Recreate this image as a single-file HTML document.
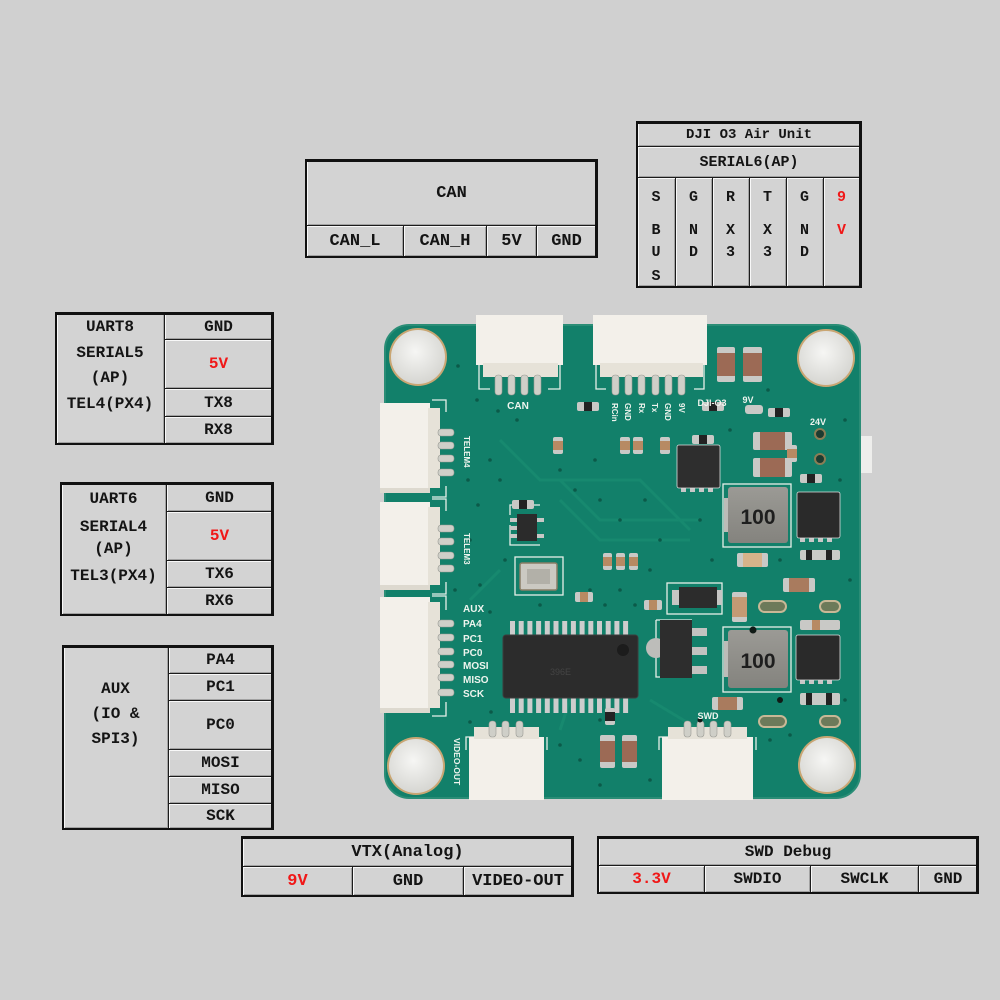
<!DOCTYPE html>
<html><head><meta charset="utf-8"><style>
html,body{margin:0;padding:0;}
body{width:1000px;height:1000px;background:#d0d0d0;position:relative;overflow:hidden;font-family:"Liberation Mono",monospace;}
.c{position:absolute;box-sizing:border-box;border:1px solid #1c1c1c;background:#d3d3d3;box-shadow:inset 1px 1px 0 #f8f8f8,inset -1px -1px 0 #a2a2a2;display:flex;align-items:center;justify-content:center;font-weight:bold;font-size:16px;color:#141414;white-space:nowrap;}
.f{position:absolute;box-sizing:border-box;border:2px solid #111;border-top-width:3px;border-right-width:3px;}
.t{position:absolute;text-align:center;font-weight:bold;font-size:16px;line-height:18px;color:#141414;white-space:nowrap;}
.r{color:#f01818;}
svg{position:absolute;left:0;top:0;}
</style></head><body>

<svg width="1000" height="1000" viewBox="0 0 1000 1000">
<defs>
<radialGradient id="hole" cx="45%" cy="40%" r="60%"><stop offset="0" stop-color="#f6f6f4"/><stop offset="1" stop-color="#d6d6d2"/></radialGradient>
<linearGradient id="ind" x1="0" y1="0" x2="0" y2="1"><stop offset="0" stop-color="#9b9a95"/><stop offset="1" stop-color="#84837e"/></linearGradient>
</defs>
<!-- right tab -->
<rect x="855" y="436" width="17" height="37" fill="#eeeeec"/>
<!-- board -->
<rect x="385" y="325" width="475" height="473" rx="24" fill="#12806a" stroke="#2a8d76" stroke-width="2"/>
<!-- faint traces -->
<g stroke="#17896f" stroke-width="3" fill="none">
<path d="M560 480 L600 520 L700 520"/><path d="M560 500 L600 540 L690 540"/><path d="M500 440 L540 480 L640 480 L690 530"/>
<path d="M470 600 L500 570"/><path d="M650 700 L700 730"/><path d="M570 700 L560 730"/>
</g>
<!-- mounting holes -->
<g>
<circle cx="418" cy="357" r="29" fill="#c9a673"/><circle cx="418" cy="357" r="27" fill="url(#hole)"/>
<circle cx="826" cy="358" r="29" fill="#c9a673"/><circle cx="826" cy="358" r="27" fill="url(#hole)"/>
<circle cx="416" cy="766" r="29" fill="#c9a673"/><circle cx="416" cy="766" r="27" fill="url(#hole)"/>
<circle cx="827" cy="765" r="29" fill="#c9a673"/><circle cx="827" cy="765" r="27" fill="url(#hole)"/>
</g>
<!-- silkscreen outlines -->
<g stroke="#e6efe9" stroke-width="1.3" fill="none">
<path d="M479 362 V389 H490"/><path d="M560 362 V389 H548"/>
<path d="M596 362 V389 H606"/><path d="M704 362 V389 H694"/>
<path d="M432 400 H446 V412"/><path d="M432 497 H446 V486"/>
<path d="M432 499 H446 V511"/><path d="M432 594 H446 V582"/>
<path d="M432 596 H446 V610"/><path d="M432 716 H446 V702"/>
<path d="M466 750 V737 H478"/><path d="M547 750 V737"/>
<path d="M659 750 V737 H670"/><path d="M756 750 V737"/>
<rect x="515" y="557" width="48" height="38"/>
<rect x="667" y="583" width="55" height="31"/>
<path d="M656 620 V677 H690"/><path d="M656 620 H692"/>
<rect x="723" y="484" width="68" height="63"/>
<rect x="723" y="627" width="68" height="65"/>
<path d="M510 525 V545 H540"/><path d="M510 515 V505 H540"/>
</g>
<!-- CAN connector -->
<rect x="476" y="315" width="87" height="50" fill="#f3f0ea"/>
<rect x="483" y="363" width="75" height="14" fill="#e6e2d8"/>
<g fill="#cfcfc8" stroke="#9a9a94" stroke-width="0.6">
<rect x="495" y="375" width="7" height="20" rx="3"/><rect x="508" y="375" width="7" height="20" rx="3"/><rect x="521" y="375" width="7" height="20" rx="3"/><rect x="534" y="375" width="7" height="20" rx="3"/>
</g>
<!-- DJI connector -->
<rect x="593" y="315" width="114" height="50" fill="#f3f0ea"/>
<rect x="600" y="363" width="103" height="14" fill="#e6e2d8"/>
<g fill="#cfcfc8" stroke="#9a9a94" stroke-width="0.6">
<rect x="612" y="375" width="7" height="20" rx="3"/><rect x="625" y="375" width="7" height="20" rx="3"/><rect x="638" y="375" width="7" height="20" rx="3"/><rect x="652" y="375" width="7" height="20" rx="3"/><rect x="665" y="375" width="7" height="20" rx="3"/><rect x="678" y="375" width="7" height="20" rx="3"/>
</g>
<!-- TELEM4 -->
<rect x="380" y="403" width="50" height="90" fill="#f3f0ea"/>
<rect x="428" y="408" width="12" height="80" fill="#e6e2d8"/>
<rect x="380" y="488" width="50" height="5" fill="#ddd9cf"/>
<g fill="#cfcfc8" stroke="#9a9a94" stroke-width="0.6">
<rect x="438" y="429" width="16" height="7" rx="3"/><rect x="438" y="442" width="16" height="7" rx="3"/><rect x="438" y="455" width="16" height="7" rx="3"/><rect x="438" y="469" width="16" height="7" rx="3"/>
</g>
<!-- TELEM3 -->
<rect x="380" y="502" width="50" height="88" fill="#f3f0ea"/>
<rect x="428" y="507" width="12" height="78" fill="#e6e2d8"/>
<rect x="380" y="585" width="50" height="5" fill="#ddd9cf"/>
<g fill="#cfcfc8" stroke="#9a9a94" stroke-width="0.6">
<rect x="438" y="525" width="16" height="7" rx="3"/><rect x="438" y="538" width="16" height="7" rx="3"/><rect x="438" y="552" width="16" height="7" rx="3"/><rect x="438" y="565" width="16" height="7" rx="3"/>
</g>
<!-- AUX -->
<rect x="380" y="597" width="50" height="116" fill="#f3f0ea"/>
<rect x="428" y="602" width="12" height="106" fill="#e6e2d8"/>
<rect x="380" y="708" width="50" height="5" fill="#ddd9cf"/>
<g fill="#cfcfc8" stroke="#9a9a94" stroke-width="0.6">
<rect x="438" y="620" width="16" height="7" rx="3"/><rect x="438" y="634" width="16" height="7" rx="3"/><rect x="438" y="648" width="16" height="7" rx="3"/><rect x="438" y="661" width="16" height="7" rx="3"/><rect x="438" y="674" width="16" height="7" rx="3"/><rect x="438" y="689" width="16" height="7" rx="3"/>
</g>
<!-- VIDEO-OUT connector -->
<rect x="469" y="737" width="75" height="63" fill="#f3f0ea"/>
<rect x="474" y="727" width="65" height="12" fill="#e6e2d8"/>
<g fill="#cfcfc8" stroke="#9a9a94" stroke-width="0.6">
<rect x="489" y="721" width="7" height="16" rx="3"/><rect x="502" y="721" width="7" height="16" rx="3"/><rect x="516" y="721" width="7" height="16" rx="3"/>
</g>
<!-- SWD connector -->
<rect x="662" y="737" width="91" height="63" fill="#f3f0ea"/>
<rect x="668" y="727" width="79" height="12" fill="#e6e2d8"/>
<g fill="#cfcfc8" stroke="#9a9a94" stroke-width="0.6">
<rect x="684" y="721" width="7" height="16" rx="3"/><rect x="697" y="721" width="7" height="16" rx="3"/><rect x="710" y="721" width="7" height="16" rx="3"/><rect x="724" y="721" width="7" height="16" rx="3"/>
</g>
<!-- TSSOP chip -->
<g fill="#cdcdcd">
<rect x="510" y="621" width="5" height="15"/><rect x="518.7" y="621" width="5" height="15"/><rect x="527.4" y="621" width="5" height="15"/><rect x="536.1" y="621" width="5" height="15"/><rect x="544.8" y="621" width="5" height="15"/><rect x="553.5" y="621" width="5" height="15"/><rect x="562.2" y="621" width="5" height="15"/><rect x="570.9" y="621" width="5" height="15"/><rect x="579.6" y="621" width="5" height="15"/><rect x="588.3" y="621" width="5" height="15"/><rect x="597" y="621" width="5" height="15"/><rect x="605.7" y="621" width="5" height="15"/><rect x="614.4" y="621" width="5" height="15"/><rect x="623.1" y="621" width="5" height="15"/>
<rect x="510" y="697" width="5" height="16"/><rect x="518.7" y="697" width="5" height="16"/><rect x="527.4" y="697" width="5" height="16"/><rect x="536.1" y="697" width="5" height="16"/><rect x="544.8" y="697" width="5" height="16"/><rect x="553.5" y="697" width="5" height="16"/><rect x="562.2" y="697" width="5" height="16"/><rect x="570.9" y="697" width="5" height="16"/><rect x="579.6" y="697" width="5" height="16"/><rect x="588.3" y="697" width="5" height="16"/><rect x="597" y="697" width="5" height="16"/><rect x="605.7" y="697" width="5" height="16"/><rect x="614.4" y="697" width="5" height="16"/><rect x="623.1" y="697" width="5" height="16"/>
</g>
<rect x="503" y="635" width="135" height="63" rx="3" fill="#2c2c2c" stroke="#3c3c3c"/>
<circle cx="623" cy="650" r="6" fill="#1c1c1c"/>
<text x="550" y="675" font-family="Liberation Sans" font-size="9" fill="#444">396E</text>
<!-- inductors -->
<rect x="724" y="498" width="8" height="34" fill="#bcbcb8"/>
<rect x="728" y="487" width="60" height="56" rx="3" fill="url(#ind)"/>
<text x="758" y="524" text-anchor="middle" font-family="Liberation Sans" font-weight="bold" font-size="21" fill="#1e1e1e">100</text>
<rect x="724" y="641" width="8" height="36" fill="#bcbcb8"/>
<rect x="728" y="630" width="60" height="58" rx="3" fill="url(#ind)"/>
<text x="758" y="668" text-anchor="middle" font-family="Liberation Sans" font-weight="bold" font-size="21" fill="#1e1e1e">100</text>
<!-- QFN chips -->
<g fill="#c8c8c8">
<rect x="800" y="536" width="5" height="6"/><rect x="809" y="536" width="5" height="6"/><rect x="818" y="536" width="5" height="6"/><rect x="827" y="536" width="5" height="6"/>
<rect x="800" y="678" width="5" height="6"/><rect x="809" y="678" width="5" height="6"/><rect x="818" y="678" width="5" height="6"/><rect x="827" y="678" width="5" height="6"/>
<rect x="681" y="486" width="5" height="6"/><rect x="690" y="486" width="5" height="6"/><rect x="699" y="486" width="5" height="6"/><rect x="708" y="486" width="5" height="6"/>
</g>
<rect x="797" y="492" width="43" height="46" rx="2" fill="#2a2a2a" stroke="#ddd" stroke-width="0.8"/>
<rect x="796" y="635" width="44" height="45" rx="2" fill="#2a2a2a" stroke="#ddd" stroke-width="0.8"/>
<rect x="677" y="445" width="43" height="43" rx="2" fill="#2e2e2e" stroke="#ddd" stroke-width="0.8"/>
<!-- SOT-223 -->
<circle cx="656" cy="648" r="10" fill="#bdbdba"/>
<g fill="#c2c2c0"><rect x="690" y="628" width="17" height="8"/><rect x="690" y="647" width="17" height="8"/><rect x="690" y="666" width="17" height="8"/></g>
<rect x="660" y="620" width="32" height="58" fill="#2d2d2d"/>
<!-- diode -->
<rect x="672" y="590" width="50" height="15" fill="#c6c6c4"/>
<rect x="679" y="587" width="38" height="21" fill="#2c2c2c"/>
<!-- crystal -->
<rect x="520" y="563" width="37" height="27" rx="2" fill="#cbc9c2" stroke="#8a7e66" stroke-width="1.5"/>
<rect x="527" y="569" width="23" height="15" fill="#b2b0a8"/>
<!-- SOT-23-6 -->
<g fill="#c8c8c6"><rect x="510" y="518" width="8" height="4"/><rect x="510" y="526" width="8" height="4"/><rect x="510" y="534" width="8" height="4"/><rect x="536" y="518" width="8" height="4"/><rect x="536" y="534" width="8" height="4"/></g>
<rect x="517" y="514" width="20" height="27" fill="#2b2b2b"/>
<!-- capacitors -->
<g>
<rect x="717" y="347" width="18" height="35" rx="2" fill="#c9c9c6"/><rect x="717" y="353" width="18" height="23" fill="#9c6a55"/>
<rect x="743" y="347" width="19" height="35" rx="2" fill="#c9c9c6"/><rect x="743" y="353" width="19" height="23" fill="#9c6a55"/>
<rect x="753" y="432" width="39" height="18" rx="2" fill="#c9c9c6"/><rect x="760" y="432" width="25" height="18" fill="#9c6a55"/>
<rect x="753" y="458" width="39" height="19" rx="2" fill="#c9c9c6"/><rect x="760" y="458" width="25" height="19" fill="#9c6a55"/>
<rect x="712" y="697" width="31" height="13" rx="2" fill="#c9c9c6"/><rect x="718" y="697" width="19" height="13" fill="#a97b5e"/>
<rect x="783" y="578" width="32" height="14" rx="2" fill="#c9c9c6"/><rect x="789" y="578" width="20" height="14" fill="#a97b5e"/>
<rect x="732" y="592" width="15" height="30" rx="2" fill="#c9c9c6"/><rect x="732" y="597" width="15" height="20" fill="#c49a74"/>
<rect x="600" y="735" width="15" height="33" rx="2" fill="#c9c9c6"/><rect x="600" y="741" width="15" height="21" fill="#9c6a55"/>
<rect x="622" y="735" width="15" height="33" rx="2" fill="#c9c9c6"/><rect x="622" y="741" width="15" height="21" fill="#9c6a55"/>
<rect x="737" y="553" width="31" height="14" rx="2" fill="#c9c9c6"/><rect x="743" y="553" width="19" height="14" fill="#d6b38a"/>
</g>
<!-- small resistors -->
<g>
<rect x="553" y="437" width="10" height="17" rx="2" fill="#c9c9c6"/><rect x="553" y="441" width="10" height="9" fill="#b78a63"/>
<rect x="620" y="437" width="10" height="17" rx="2" fill="#c9c9c6"/><rect x="620" y="441" width="10" height="9" fill="#b78a63"/>
<rect x="633" y="437" width="10" height="17" rx="2" fill="#c9c9c6"/><rect x="633" y="441" width="10" height="9" fill="#b78a63"/>
<rect x="660" y="437" width="10" height="17" rx="2" fill="#c9c9c6"/><rect x="660" y="441" width="10" height="9" fill="#b78a63"/>
<rect x="603" y="553" width="9" height="17" rx="2" fill="#c9c9c6"/><rect x="603" y="557" width="9" height="9" fill="#b78a63"/>
<rect x="616" y="553" width="9" height="17" rx="2" fill="#c9c9c6"/><rect x="616" y="557" width="9" height="9" fill="#b78a63"/>
<rect x="629" y="553" width="9" height="17" rx="2" fill="#c9c9c6"/><rect x="629" y="557" width="9" height="9" fill="#b78a63"/>
<rect x="575" y="592" width="18" height="10" rx="2" fill="#c9c9c6"/><rect x="580" y="592" width="8" height="10" fill="#b78a63"/>
<rect x="644" y="600" width="18" height="10" rx="2" fill="#c9c9c6"/><rect x="649" y="600" width="8" height="10" fill="#b78a63"/>
<rect x="605" y="708" width="10" height="17" rx="2" fill="#c9c9c6"/><rect x="605" y="712" width="10" height="9" fill="#222"/>
<rect x="577" y="402" width="22" height="9" rx="2" fill="#c9c9c6"/><rect x="584" y="402" width="8" height="9" fill="#222"/>
<rect x="702" y="402" width="22" height="9" rx="2" fill="#c9c9c6"/><rect x="709" y="402" width="8" height="9" fill="#222"/>
<rect x="745" y="405" width="18" height="9" rx="3" fill="#c9c9c6"/>
<rect x="768" y="408" width="22" height="9" rx="2" fill="#c9c9c6"/><rect x="775" y="408" width="8" height="9" fill="#222"/>
<rect x="512" y="500" width="22" height="9" rx="2" fill="#c9c9c6"/><rect x="519" y="500" width="8" height="9" fill="#222"/>
<rect x="692" y="435" width="22" height="9" rx="2" fill="#c9c9c6"/><rect x="699" y="435" width="8" height="9" fill="#222"/>
<rect x="800" y="474" width="22" height="9" rx="2" fill="#c9c9c6"/><rect x="807" y="474" width="8" height="9" fill="#222"/>
<rect x="800" y="550" width="40" height="10" rx="2" fill="#c9c9c6"/><rect x="806" y="550" width="6" height="10" fill="#222"/><rect x="826" y="550" width="6" height="10" fill="#222"/>
<rect x="800" y="620" width="40" height="10" rx="2" fill="#c9c9c6"/><rect x="812" y="620" width="8" height="10" fill="#b78a63"/>
<rect x="800" y="693" width="40" height="12" rx="2" fill="#c9c9c6"/><rect x="806" y="693" width="6" height="12" fill="#222"/><rect x="826" y="693" width="6" height="12" fill="#222"/>
<rect x="787" y="445" width="10" height="17" rx="2" fill="#c9c9c6"/><rect x="787" y="449" width="10" height="9" fill="#b78a63"/>
</g>
<!-- oval pads -->
<g fill="#6c7a5a" stroke="#c8b896" stroke-width="2">
<rect x="759" y="601" width="27" height="11" rx="5.5"/><rect x="820" y="601" width="20" height="11" rx="5.5"/>
<rect x="759" y="716" width="27" height="11" rx="5.5"/><rect x="820" y="716" width="20" height="11" rx="5.5"/>
</g>
<g fill="#1c3b30" stroke="#8a7d55" stroke-width="2"><circle cx="820" cy="434" r="5"/><circle cx="820" cy="459" r="5"/></g>
<!-- vias -->
<g fill="#0b5a49">
<circle cx="458" cy="366" r="1.8"/><circle cx="477" cy="400" r="1.8"/><circle cx="498" cy="411" r="1.8"/><circle cx="517" cy="420" r="1.8"/>
<circle cx="490" cy="460" r="1.8"/><circle cx="500" cy="480" r="1.8"/><circle cx="478" cy="505" r="1.8"/><circle cx="505" cy="560" r="1.8"/>
<circle cx="480" cy="585" r="1.8"/><circle cx="490" cy="612" r="1.8"/><circle cx="491" cy="712" r="1.8"/><circle cx="470" cy="722" r="1.8"/>
<circle cx="560" cy="470" r="1.8"/><circle cx="575" cy="490" r="1.8"/><circle cx="600" cy="500" r="1.8"/><circle cx="620" cy="520" r="1.8"/>
<circle cx="590" cy="590" r="1.8"/><circle cx="605" cy="605" r="1.8"/><circle cx="620" cy="590" r="1.8"/><circle cx="635" cy="605" r="1.8"/>
<circle cx="650" cy="570" r="1.8"/><circle cx="660" cy="540" r="1.8"/><circle cx="645" cy="500" r="1.8"/><circle cx="595" cy="460" r="1.8"/>
<circle cx="560" cy="745" r="1.8"/><circle cx="580" cy="760" r="1.8"/><circle cx="650" cy="780" r="1.8"/><circle cx="600" cy="785" r="1.8"/>
<circle cx="770" cy="740" r="1.8"/><circle cx="790" cy="735" r="1.8"/><circle cx="845" cy="700" r="1.8"/><circle cx="850" cy="580" r="1.8"/>
<circle cx="845" cy="420" r="1.8"/><circle cx="768" cy="390" r="1.8"/><circle cx="730" cy="430" r="1.8"/><circle cx="700" cy="520" r="1.8"/>
<circle cx="712" cy="560" r="1.8"/><circle cx="780" cy="560" r="1.8"/><circle cx="840" cy="480" r="1.8"/><circle cx="540" cy="605" r="1.8"/>
<circle cx="470" cy="540" r="1.8"/><circle cx="468" cy="480" r="1.8"/><circle cx="455" cy="590" r="1.8"/><circle cx="600" cy="720" r="1.8"/>
</g>
<g fill="#101a16"><circle cx="753" cy="630" r="3.5"/><circle cx="780" cy="700" r="3"/><circle cx="700" cy="720" r="2.5"/></g>
<!-- board texts -->
<g font-family="Liberation Sans" font-weight="bold" fill="#eef4ee">
<text x="518" y="409" font-size="10" text-anchor="middle">CAN</text>
<text x="712" y="406" font-size="9" text-anchor="middle">DJI-O3</text>
<text x="748" y="403" font-size="9" text-anchor="middle">9V</text>
<text x="818" y="425" font-size="9" text-anchor="middle">24V</text>
<g font-size="8">
<text transform="translate(612,403) rotate(90)">RCin</text>
<text transform="translate(625,403) rotate(90)">GND</text>
<text transform="translate(639,403) rotate(90)">Rx</text>
<text transform="translate(652,403) rotate(90)">Tx</text>
<text transform="translate(665,403) rotate(90)">GND</text>
<text transform="translate(679,403) rotate(90)">9V</text>
<text transform="translate(464,436) rotate(90)">TELEM4</text>
<text transform="translate(464,533) rotate(90)">TELEM3</text>
<text transform="translate(454,738) rotate(90)" font-size="8.5">VIDEO-OUT</text>
</g>
<g font-size="10">
<text x="463" y="612">AUX</text>
<text x="463" y="627">PA4</text>
<text x="463" y="642">PC1</text>
<text x="463" y="656">PC0</text>
<text x="463" y="669">MOSI</text>
<text x="463" y="683">MISO</text>
<text x="463" y="697">SCK</text>
</g>
<text x="708" y="719" font-size="9" text-anchor="middle">SWD</text>
</g>
</svg>

<!-- CAN table -->
<div class="c" style="left:306px;top:160px;width:291px;height:66px;font-size:17px;">CAN</div>
<div class="c" style="left:306px;top:225px;width:98px;height:32px;font-size:17px;">CAN_L</div>
<div class="c" style="left:403px;top:225px;width:84px;height:32px;font-size:17px;">CAN_H</div>
<div class="c" style="left:486px;top:225px;width:51px;height:32px;font-size:17px;">5V</div>
<div class="c" style="left:536px;top:225px;width:61px;height:32px;font-size:17px;">GND</div>
<div class="f" style="left:305px;top:159px;width:293px;height:99px;"></div>

<!-- DJI table -->
<div class="c" style="left:637px;top:122px;width:224px;height:25px;font-size:14px;">DJI O3 Air Unit</div>
<div class="c" style="left:637px;top:146px;width:224px;height:32px;font-size:15px;">SERIAL6(AP)</div>
<div class="c" style="left:637px;top:177px;width:39px;height:110px;"></div>
<div class="c" style="left:675px;top:177px;width:38px;height:110px;"></div>
<div class="c" style="left:712px;top:177px;width:38px;height:110px;"></div>
<div class="c" style="left:749px;top:177px;width:38px;height:110px;"></div>
<div class="c" style="left:786px;top:177px;width:38px;height:110px;"></div>
<div class="c" style="left:823px;top:177px;width:38px;height:110px;"></div>
<div class="f" style="left:636px;top:121px;width:226px;height:167px;"></div>
<div class="t" style="left:637px;top:189px;width:38px;font-size:15px;">S</div>
<div class="t" style="left:637px;top:222px;width:38px;font-size:15px;">B</div>
<div class="t" style="left:637px;top:244px;width:38px;font-size:15px;">U</div>
<div class="t" style="left:637px;top:268px;width:38px;font-size:15px;">S</div>
<div class="t" style="left:675px;top:189px;width:37px;font-size:15px;">G</div>
<div class="t" style="left:675px;top:222px;width:37px;font-size:15px;">N</div>
<div class="t" style="left:675px;top:244px;width:37px;font-size:15px;">D</div>
<div class="t" style="left:712px;top:189px;width:37px;font-size:15px;">R</div>
<div class="t" style="left:712px;top:222px;width:37px;font-size:15px;">X</div>
<div class="t" style="left:712px;top:244px;width:37px;font-size:15px;">3</div>
<div class="t" style="left:749px;top:189px;width:37px;font-size:15px;">T</div>
<div class="t" style="left:749px;top:222px;width:37px;font-size:15px;">X</div>
<div class="t" style="left:749px;top:244px;width:37px;font-size:15px;">3</div>
<div class="t" style="left:786px;top:189px;width:37px;font-size:15px;">G</div>
<div class="t" style="left:786px;top:222px;width:37px;font-size:15px;">N</div>
<div class="t" style="left:786px;top:244px;width:37px;font-size:15px;">D</div>
<div class="t r" style="left:823px;top:189px;width:37px;font-size:15px;">9</div>
<div class="t r" style="left:823px;top:222px;width:37px;font-size:15px;">V</div>

<!-- UART8 table -->
<div class="c" style="left:56px;top:313px;width:109px;height:131px;"></div>
<div class="c" style="left:164px;top:313px;width:109px;height:27px;">GND</div>
<div class="c r" style="left:164px;top:339px;width:109px;height:50px;">5V</div>
<div class="c" style="left:164px;top:388px;width:109px;height:29px;">TX8</div>
<div class="c" style="left:164px;top:416px;width:109px;height:28px;">RX8</div>
<div class="f" style="left:55px;top:312px;width:219px;height:133px;"></div>
<div class="t" style="left:56px;top:318px;width:108px;">UART8</div>
<div class="t" style="left:56px;top:344px;width:108px;">SERIAL5</div>
<div class="t" style="left:56px;top:369px;width:108px;">(AP)</div>
<div class="t" style="left:56px;top:395px;width:108px;">TEL4(PX4)</div>

<!-- UART6 table -->
<div class="c" style="left:61px;top:483px;width:106px;height:132px;"></div>
<div class="c" style="left:166px;top:483px;width:107px;height:29px;">GND</div>
<div class="c r" style="left:166px;top:511px;width:107px;height:50px;">5V</div>
<div class="c" style="left:166px;top:560px;width:107px;height:28px;">TX6</div>
<div class="c" style="left:166px;top:587px;width:107px;height:28px;">RX6</div>
<div class="f" style="left:60px;top:482px;width:214px;height:134px;"></div>
<div class="t" style="left:61px;top:490px;width:105px;">UART6</div>
<div class="t" style="left:61px;top:518px;width:105px;">SERIAL4</div>
<div class="t" style="left:61px;top:540px;width:105px;">(AP)</div>
<div class="t" style="left:61px;top:567px;width:105px;">TEL3(PX4)</div>

<!-- AUX table -->
<div class="c" style="left:63px;top:646px;width:106px;height:183px;"></div>
<div class="c" style="left:168px;top:646px;width:105px;height:28px;">PA4</div>
<div class="c" style="left:168px;top:673px;width:105px;height:28px;">PC1</div>
<div class="c" style="left:168px;top:700px;width:105px;height:50px;">PC0</div>
<div class="c" style="left:168px;top:749px;width:105px;height:28px;">MOSI</div>
<div class="c" style="left:168px;top:776px;width:105px;height:28px;">MISO</div>
<div class="c" style="left:168px;top:803px;width:105px;height:26px;">SCK</div>
<div class="f" style="left:62px;top:645px;width:212px;height:185px;"></div>
<div class="t" style="left:63px;top:680px;width:105px;">AUX</div>
<div class="t" style="left:63px;top:705px;width:105px;">(IO &amp;</div>
<div class="t" style="left:63px;top:730px;width:105px;">SPI3)</div>

<!-- VTX table -->
<div class="c" style="left:242px;top:837px;width:331px;height:30px;font-size:17px;">VTX(Analog)</div>
<div class="c r" style="left:242px;top:866px;width:111px;height:30px;font-size:17px;">9V</div>
<div class="c" style="left:352px;top:866px;width:112px;height:30px;font-size:17px;">GND</div>
<div class="c" style="left:463px;top:866px;width:110px;height:30px;font-size:17px;">VIDEO-OUT</div>
<div class="f" style="left:241px;top:836px;width:333px;height:61px;"></div>

<!-- SWD table -->
<div class="c" style="left:598px;top:837px;width:380px;height:29px;">SWD Debug</div>
<div class="c r" style="left:598px;top:865px;width:107px;height:28px;">3.3V</div>
<div class="c" style="left:704px;top:865px;width:107px;height:28px;">SWDIO</div>
<div class="c" style="left:810px;top:865px;width:109px;height:28px;">SWCLK</div>
<div class="c" style="left:918px;top:865px;width:60px;height:28px;">GND</div>
<div class="f" style="left:597px;top:836px;width:382px;height:58px;"></div>

</body></html>
